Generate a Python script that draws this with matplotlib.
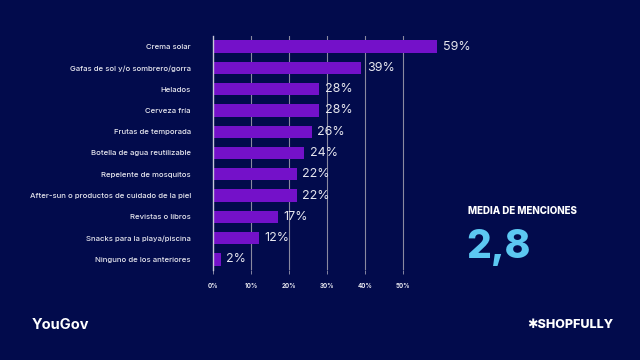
import matplotlib
matplotlib.use("Agg")
import matplotlib.pyplot as plt

categories = ["Crema solar", "Gafas de sol y/o sombrero/gorra", "Helados", "Cerveza fría",
              "Frutas de temporada", "Botella de agua reutilizable", "Repelente de mosquitos",
              "After-sun o productos de cuidado de la piel", "Revistas o libros",
              "Snacks para la playa/piscina", "Ninguno de los anteriores"]
values = [59, 39, 28, 28, 26, 24, 22, 22, 17, 12, 2]
xticks = [0, 10, 20, 30, 40, 50]
xticklabels = ["0%", "10%", "20%", "30%", "40%", "50%"]

BG = "#020B4C"
BAR = "#7411C9"
TXT = "#E6E6EE"
plt.rcParams['font.family'] = ['Inter', 'DejaVu Sans']

fig = plt.figure(figsize=(6.4, 3.6), dpi=100, facecolor=BG)
ax = fig.add_axes([213/640, 1-270/360, 228/640, 234/360], facecolor=BG)
y = list(range(len(categories)))
ax.barh(y, values, height=0.58, color=BAR, zorder=3)
ax.set_ylim(len(categories)-0.5, -0.5)
ax.set_xlim(0, 60)
ax.set_xticks(xticks)
ax.set_xticklabels(xticklabels, fontsize=4.5, color=TXT, fontweight='bold')
ax.set_yticks(y)
ax.set_yticklabels(categories, fontsize=5.6, color=TXT, fontweight='medium')
ax.tick_params(axis='y', length=0, pad=16)
ax.tick_params(axis='x', length=3, color="#9a9ab0", width=0.6, pad=6)
for g in xticks[1:]:
    ax.axvline(g, color="#8a8aa0", lw=0.8, zorder=1)
for s in ['top', 'right', 'bottom']:
    ax.spines[s].set_visible(False)
ax.spines['left'].set_color("#c8c8d8")
ax.spines['left'].set_linewidth(1.0)
ax.spines['left'].set_zorder(4)
for yi, v in zip(y, values):
    ax.text(v + 1.5, yi, f"{v}%", va='center', ha='left', fontsize=9, color=TXT, zorder=5)

fig.text(468/640, 1-211/360, "MEDIA DE MENCIONES", fontsize=7, fontweight='heavy', color="white", va='center', ha='left')
fig.text(466/640, 1-248/360, "2,8", fontsize=28, fontweight='heavy', color="#5CC8F2", va='center', ha='left')
fig.text(32/640, 1-325/360, "YouGov", fontsize=10.5, fontweight='bold', color="white", va='center', ha='left')
fig.text(527/640, 1-325/360, "✱SHOPFULLY", fontsize=9, fontweight='heavy', color="white", va='center', ha='left',
         family=['Inter', 'DejaVu Sans'])

fig.savefig("out.png", dpi=100, facecolor=BG)
